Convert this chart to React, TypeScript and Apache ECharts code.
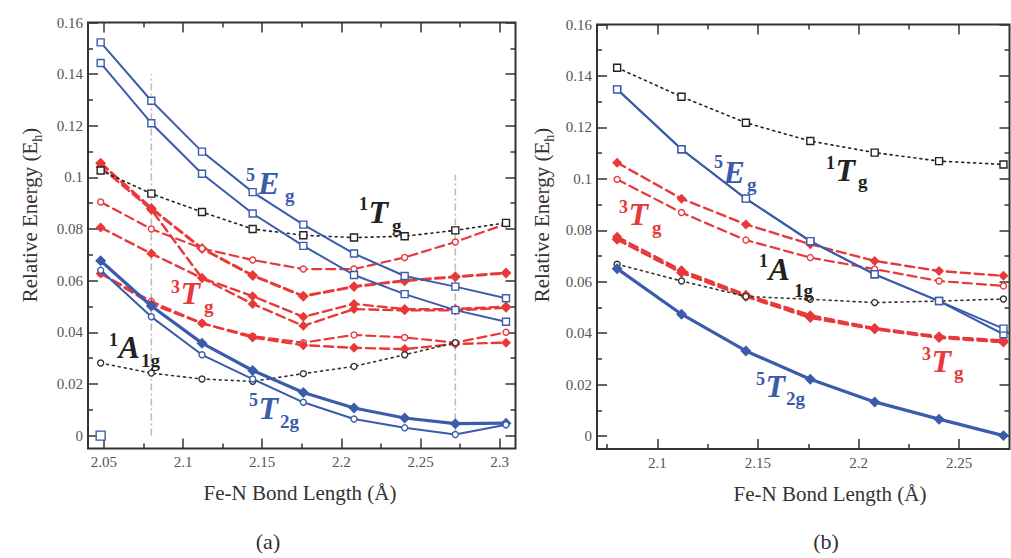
import React, { useEffect, useRef } from 'react';
import * as echarts from 'echarts';

// ---------- data ----------
const xA = [2.048, 2.08, 2.112, 2.144, 2.176, 2.208, 2.24, 2.272, 2.304];
const xB = [2.08, 2.112, 2.144, 2.176, 2.208, 2.24, 2.272];

// panel (a)
const a5EgUpper = [0.1523, 0.1297, 0.110, 0.0943, 0.0817, 0.0705, 0.0618, 0.0577, 0.0532];
const a5EgLower = [0.1443, 0.121, 0.1014, 0.086, 0.0735, 0.0622, 0.0548, 0.0486, 0.0441];
const a1Tg = [0.1027, 0.0937, 0.0866, 0.080, 0.0776, 0.0767, 0.0772, 0.0795, 0.0824];
const a1A1g = [0.0281, 0.0242, 0.0219, 0.021, 0.024, 0.0268, 0.0313, 0.036];
const a5T2gUpper = [0.0677, 0.0502, 0.0358, 0.0252, 0.0167, 0.0107, 0.0068, 0.0046, 0.0048];
const a5T2gLower = [0.064, 0.046, 0.0313, 0.0219, 0.0129, 0.0064, 0.003, 0.0004, 0.0042];
const a3TgR1 = [0.1055, 0.088, 0.0725, 0.062, 0.054, 0.0577, 0.060, 0.0615, 0.063];
const a3TgR2 = [0.0905, 0.080, 0.0725, 0.068, 0.0645, 0.0645, 0.069, 0.075, 0.082];
const a3TgR3 = [0.104, 0.0875, 0.061, 0.054, 0.046, 0.051, 0.049, 0.049, 0.050];
const a3TgR4 = [0.0806, 0.0705, 0.061, 0.051, 0.0425, 0.049, 0.0485, 0.0485, 0.0495];
const a3TgR5 = [0.0628, 0.052, 0.0435, 0.0385, 0.036, 0.039, 0.038, 0.036, 0.040];
const a3TgR6 = [0.0628, 0.051, 0.0435, 0.038, 0.035, 0.034, 0.0335, 0.0355, 0.036];
const aGroundX = [2.048];
const aGroundY = [0];
const aGuideX = [2.08, 2.272];
const aGuideTop = [0.14, 0.101];

// panel (b)
const b1Tg = [0.1432, 0.1319, 0.1218, 0.1147, 0.1102, 0.1069, 0.1056];
const b5EgA = [0.1348, 0.1115, 0.0923, 0.0758, 0.0629, 0.0525, 0.0396];
const b5EgB = [0.1348, 0.1115, 0.0923, 0.0758, 0.0629, 0.0525, 0.0418];
const b3TgU1 = [0.1063, 0.0923, 0.0823, 0.0746, 0.0681, 0.0642, 0.0623];
const b3TgU2 = [0.0998, 0.0869, 0.0762, 0.0694, 0.0649, 0.0603, 0.0584];
const b3TgL1 = [0.0765, 0.0636, 0.0543, 0.0461, 0.0416, 0.0383, 0.0366];
const b3TgL2 = [0.0775, 0.0645, 0.055, 0.047, 0.042, 0.0388, 0.0372];
const b1A1g = [0.0668, 0.0603, 0.0543, 0.0532, 0.0519, 0.0525, 0.0533];
const b5T2g = [0.0651, 0.0474, 0.0331, 0.0221, 0.0133, 0.0066, 0.0002];

// ticks
const aXMajor = [2.05, 2.1, 2.15, 2.2, 2.25, 2.3];
const aXMinor = [2.075, 2.125, 2.175, 2.225, 2.275];
const bXMajor = [2.1, 2.15, 2.2, 2.25];
const bXMinor = [2.075, 2.125, 2.175, 2.225];
const yMajor = [0, 0.02, 0.04, 0.06, 0.08, 0.1, 0.12, 0.14, 0.16];
const yMinor = [0.01, 0.03, 0.05, 0.07, 0.09, 0.11, 0.13, 0.15];

// ---------- styles ----------
const BLUE = '#3b5cab';
const RED = '#e8393a';
const BLACK = '#222';
const AXIS = '#333';
const SERIF = '"Liberation Serif", "DejaVu Serif", serif';

const fmt = (v: number) => String(parseFloat(Number(v).toFixed(4)));

function pts(xs: number[], ys: number[]) {
  return ys.map((y, i) => [xs[i], y]);
}

function xAxes(grid: number, min: number, max: number, major: number[], minor: number[]) {
  const base = (pos: string, vals: number[], len: number, label: boolean) => ({
    type: 'value', gridIndex: grid, position: pos, min, max,
    axisLine: { show: false, onZero: false },
    axisTick: { show: true, inside: true, length: len, customValues: vals, lineStyle: { color: AXIS, width: 1.5 } },
    axisLabel: label
      ? { show: true, customValues: vals, formatter: fmt, color: '#555', fontFamily: SERIF, fontSize: 15, margin: 6 }
      : { show: false },
    splitLine: { show: false },
  });
  return [base('bottom', major, 10, true), base('bottom', minor, 5, false), base('top', major, 10, false), base('top', minor, 5, false)];
}

function yAxes(grid: number) {
  const base = (pos: string, vals: number[], len: number, label: boolean) => ({
    type: 'value', gridIndex: grid, position: pos, min: -0.005, max: 0.16,
    axisLine: { show: false, onZero: false },
    axisTick: { show: true, inside: true, length: len, customValues: vals, lineStyle: { color: AXIS, width: 1.5 } },
    axisLabel: label
      ? { show: true, customValues: vals, formatter: fmt, color: '#555', fontFamily: SERIF, fontSize: 15, margin: 5 }
      : { show: false },
    splitLine: { show: false },
  });
  return [base('left', yMajor, 10, true), base('left', yMinor, 5, false), base('right', yMajor, 10, false), base('right', yMinor, 5, false)];
}

type LS = {
  color: string; width: number; dash: any; symbol: string; size: number; filled: boolean; z?: number;
};

function series(grid: number, xs: number[], ys: number[], s: LS) {
  return {
    type: 'line', xAxisIndex: grid * 4, yAxisIndex: grid * 4,
    data: pts(xs, ys),
    symbol: s.symbol, symbolSize: s.size, showSymbol: true,
    lineStyle: { color: s.color, width: s.width, type: s.dash, cap: 'round' },
    itemStyle: { color: s.filled ? s.color : '#fff', borderColor: s.color, borderWidth: 1.4 },
    z: s.z ?? 3, silent: true,
  };
}

const blueSq: LS = { color: BLUE, width: 2, dash: 'solid', symbol: 'rect', size: 7, filled: false, z: 5 };
const blueDiaThick: LS = { color: BLUE, width: 3.2, dash: 'solid', symbol: 'diamond', size: 9, filled: true, z: 5 };
const blueCirc: LS = { color: BLUE, width: 2, dash: 'solid', symbol: 'circle', size: 6, filled: false, z: 5 };
const blackSq: LS = { color: BLACK, width: 1.6, dash: [2, 4], symbol: 'rect', size: 7, filled: false, z: 4 };
const blackCirc: LS = { color: '#333', width: 1.6, dash: [2, 4], symbol: 'circle', size: 6, filled: false, z: 4 };
const redDia: LS = { color: RED, width: 2.4, dash: [9, 5], symbol: 'diamond', size: 8, filled: true, z: 3 };
const redCirc: LS = { color: RED, width: 2.2, dash: [9, 5], symbol: 'circle', size: 6, filled: false, z: 3 };
const redDiaThick: LS = { color: RED, width: 3, dash: [9, 5], symbol: 'diamond', size: 9, filled: true, z: 3 };

// ---------- labels (state names): [supLeft, supMid], [mainLeft, mainMid], [subLeft, subMid] ----------
type Lbl = { color: string; sup: [number, number, string]; main: [number, number, string]; sub: [number, number, string] };
const stateLabels: Lbl[] = [
  // panel a
  { color: BLUE, sup: [246, 175, '5'], main: [258, 183, 'E'], sub: [285, 195, 'g'] },
  { color: BLACK, sup: [359, 204, '1'], main: [367, 212, 'T'], sub: [392, 225, 'g'] },
  { color: RED, sup: [171, 287, '3'], main: [180, 293, 'T'], sub: [204, 306, 'g'] },
  { color: BLACK, sup: [109, 340, '1'], main: [118, 347, 'A'], sub: [141, 360, '1g'] },
  { color: BLUE, sup: [249, 400, '5'], main: [257, 408, 'T'], sub: [280, 421, '2g'] },
  // panel b
  { color: BLUE, sup: [714, 162, '5'], main: [722, 172, 'E'], sub: [747, 184, 'g'] },
  { color: BLACK, sup: [826, 163, '1'], main: [834, 170, 'T'], sub: [858, 181, 'g'] },
  { color: RED, sup: [619, 207, '3'], main: [627, 214, 'T'], sub: [652, 227, 'g'] },
  { color: BLACK, sup: [759, 261, '1'], main: [767, 269, 'A'], sub: [794, 290, '1g'] },
  { color: RED, sup: [922, 354, '3'], main: [930, 361, 'T'], sub: [954, 372, 'g'] },
  { color: BLUE, sup: [756, 379, '5'], main: [765, 386, 'T'], sub: [786, 398, '2g'] },
];
const SUP_FONT = `bold 18px ${SERIF}`;
const MAIN_FONT = `italic bold 32px ${SERIF}`;
const SUB_FONT = `bold 19px ${SERIF}`;

export default function App() {
  const ref = useRef<HTMLDivElement>(null);
  useEffect(() => {
    if (!ref.current) return;
    const chart = echarts.init(ref.current, undefined, { renderer: 'svg' });

    const ctx = document.createElement('canvas').getContext('2d');
    const measure = (font: string, t: string) => {
      if (!ctx) return t.length * 10;
      ctx.font = font;
      return ctx.measureText(t).width;
    };

    const guideSeries = aGuideX.map((gx, i) => ({
      type: 'line', xAxisIndex: 0, yAxisIndex: 0,
      data: [[gx, 0], [gx, aGuideTop[i]]],
      symbol: 'none',
      lineStyle: { color: '#bdbdbd', width: 1.6, type: [7, 3, 2, 3] },
      z: 1, silent: true,
    }));

    const labelTexts: any[] = [];
    stateLabels.forEach((l) => {
      const supX = l.sup[0];
      const supW = measure(SUP_FONT, l.sup[2]);
      const mainX = Math.max(l.main[0], supX + supW + 0.5);
      const mainW = measure(MAIN_FONT, l.main[2]);
      const subX = Math.max(l.sub[0], mainX + mainW + 0.5);
      const mk = (t: string, x: number, y: number, font: string) => ({
        type: 'text', x, y, z: 50, silent: true,
        style: { text: t, fill: l.color, font, align: 'left', verticalAlign: 'middle' },
      });
      labelTexts.push(mk(l.sup[2], supX, l.sup[1], SUP_FONT));
      labelTexts.push(mk(l.main[2], mainX, l.main[1], MAIN_FONT));
      labelTexts.push(mk(l.sub[2], subX, l.sub[1], SUB_FONT));
    });

    const graphic: any[] = [
      ...labelTexts,
      // axis titles
      ...[27, 539].map((gx) => ({
        type: 'text', x: gx, y: 215, rotation: Math.PI / 2, z: 50, silent: true,
        style: {
          text: '{n|Relative Energy (E}{s|h}{n|)}',
          align: 'center', verticalAlign: 'middle',
          rich: {
            n: { fontFamily: SERIF, fontSize: 21, fill: '#333', lineHeight: 26, verticalAlign: 'bottom' },
            s: { fontFamily: SERIF, fontSize: 14, fill: '#333', lineHeight: 26, verticalAlign: 'bottom', padding: [0, 0, -4, 0] },
          },
        },
      })),
      ...[[300, 493], [830, 494]].map(([gx, gy]) => ({
        type: 'text', x: gx, y: gy, z: 50, silent: true,
        style: { text: 'Fe-N Bond Length (Å)', font: `21px ${SERIF}`, fill: '#333', align: 'center', verticalAlign: 'middle' },
      })),
      ...[[268, 541, '(a)'], [826, 541, '(b)']].map(([gx, gy, t]) => ({
        type: 'text', x: gx, y: gy, z: 50, silent: true,
        style: { text: t, font: `22px ${SERIF}`, fill: '#333', align: 'center', verticalAlign: 'middle' },
      })),
    ];

    chart.setOption({
      animation: false,
      backgroundColor: '#fff',
      grid: [
        { left: 88, top: 22.5, width: 427.5, height: 426, show: true, borderColor: AXIS, borderWidth: 2, backgroundColor: 'transparent' },
        { left: 597, top: 24.5, width: 412.5, height: 424.5, show: true, borderColor: AXIS, borderWidth: 2, backgroundColor: 'transparent' },
      ],
      xAxis: [...xAxes(0, 2.04, 2.31, aXMajor, aXMinor), ...xAxes(1, 2.07, 2.275, bXMajor, bXMinor)],
      yAxis: [...yAxes(0), ...yAxes(1)],
      series: [
        ...guideSeries,
        // panel a
        series(0, xA, a3TgR1, redDiaThick),
        series(0, xA, a3TgR2, redCirc),
        series(0, xA, a3TgR3, redDia),
        series(0, xA, a3TgR4, redDia),
        series(0, xA, a3TgR5, redCirc),
        series(0, xA, a3TgR6, redDia),
        series(0, xA, a1Tg, blackSq),
        series(0, xA, a1A1g, blackCirc),
        series(0, xA, a5EgUpper, blueSq),
        series(0, xA, a5EgLower, blueSq),
        series(0, xA, a5T2gUpper, blueDiaThick),
        series(0, xA, a5T2gLower, blueCirc),
        { ...series(0, aGroundX, aGroundY, blueSq), symbolSize: 9 },
        // panel b
        series(1, xB, b3TgU1, redDia),
        series(1, xB, b3TgU2, redCirc),
        series(1, xB, b3TgL1, redDiaThick),
        series(1, xB, b3TgL2, redDia),
        series(1, xB, b1Tg, blackSq),
        series(1, xB, b1A1g, blackCirc),
        series(1, xB, b5EgA, blueSq),
        series(1, xB, b5EgB, blueSq),
        series(1, xB, b5T2g, blueDiaThick),
      ],
      graphic,
    });
    return () => chart.dispose();
  }, []);

  return <div ref={ref} style={{ position: 'absolute', left: 0, top: 0, width: 1011, height: 558 }} />;
}
